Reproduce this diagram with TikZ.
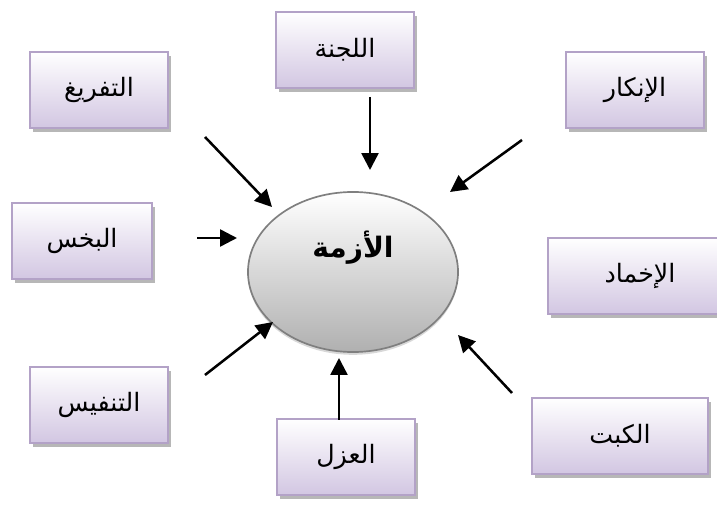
\documentclass[tikz,border=0pt]{standalone}
\usepackage{fontspec}
\newfontfamily\arabicfont[Script=Arabic]{DejaVu Sans}
\TeXXeTstate=1
\usetikzlibrary{shapes.geometric,shadows,arrows.meta}
\definecolor{boxline}{HTML}{B3A2C7}
\definecolor{boxfill}{HTML}{D2C6E2}
\definecolor{ellline}{HTML}{7F7F7F}
\definecolor{ellfill}{HTML}{B0B0B0}
\tikzset{
  reason/.style={draw=boxline, line width=1.4pt, top color=white, bottom color=boxfill,
    minimum height=1.9cm, inner sep=0pt, font=\arabicfont\fontsize{18}{21}\selectfont,
    drop shadow={shadow xshift=2pt, shadow yshift=-2.5pt, fill=black!40, opacity=.7}},
  crisis/.style={ellipse, draw=ellline, line width=1.2pt, top color=white, bottom color=ellfill,
    minimum width=5.25cm, minimum height=4cm, inner sep=0pt,
    font=\arabicfont\bfseries\fontsize{20}{24}\selectfont,
    drop shadow={shadow xshift=0pt, shadow yshift=-2pt, fill=black!30, opacity=.5}},
  push/.style={line width=1.8pt, -{Triangle[length=12pt, width=12pt]}}
}
\begin{document}
\begin{tikzpicture}[x=0.025cm,y=-0.025cm]
\useasboundingbox (0,0) rectangle (717,510);
% centre
\node[crisis] (azma) at (353,272) {\raisebox{1.4cm}{\beginR الأزمة\endR}};
% boxes round it
\foreach \n/\x/\y/\w/\t in {lajna/345/50/3.45/اللجنة, tafrigh/99/90/3.45/التفريغ,
    inkar/635/90/3.45/الإنكار, bakhs/82/241/3.5/البخس, ikhmad/640/276/4.6/الإخماد,
    tanfis/99/405/3.45/التنفيس, azl/346/457/3.45/العزل, kabt/620/436/4.4/الكبت}
  \node[reason, minimum width=\w cm] (\n) at (\x,\y) {\beginR\t\endR};
% arrows towards the centre (none from ikhmad)
\foreach \n/\a/\b/\c/\d in {lajna/370/97/370/170, tafrigh/205/137/272/207,
    inkar/522/140/450/192, bakhs/197/238/237/238, tanfis/205/375/273/322,
    azl/339/420/339/358, kabt/512/393/458/335}
{
  \coordinate (\n-tail) at (\a,\b);
  \coordinate (\n-tip) at (\c,\d);
  \draw[push] (\n-tail) -- (\n-tip);
}
\end{tikzpicture}
\end{document}
